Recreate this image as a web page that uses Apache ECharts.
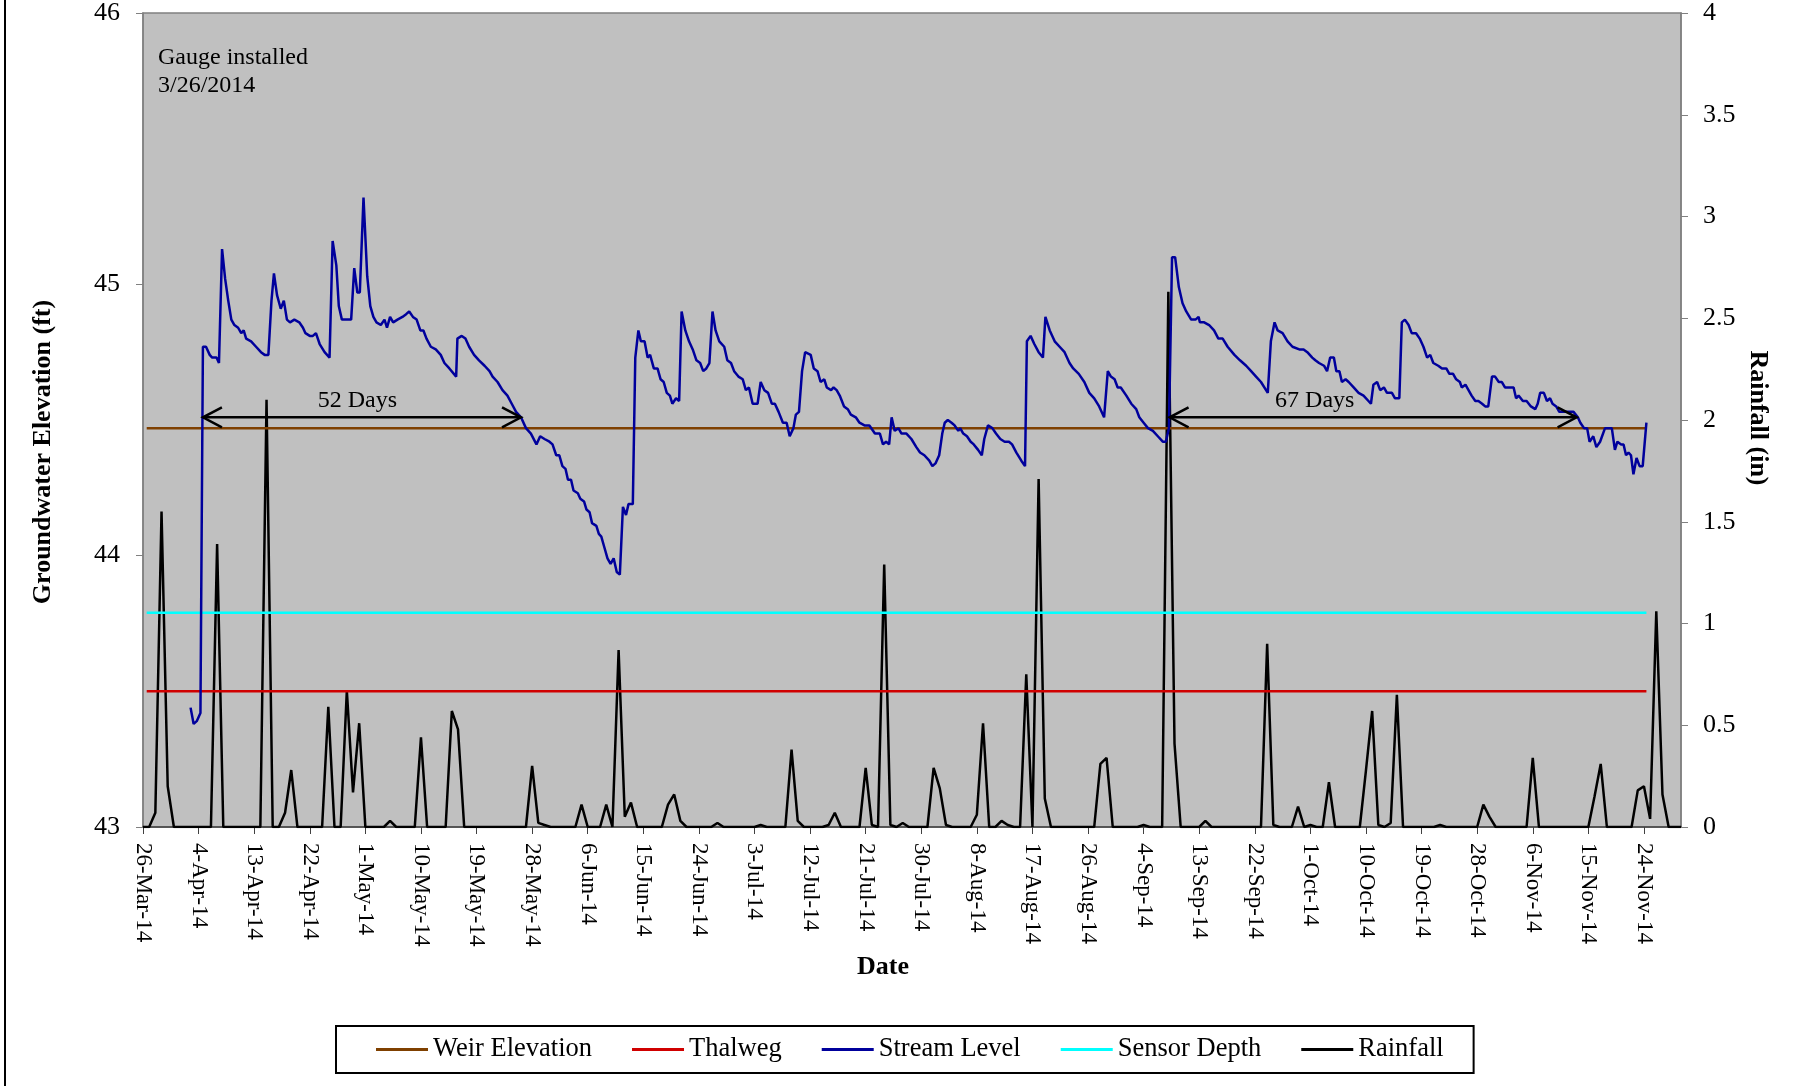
<!DOCTYPE html>
<html>
<head>
<meta charset="utf-8">
<title>Groundwater Elevation</title>
<script src="https://cdn.jsdelivr.net/npm/echarts@6/dist/echarts.min.js"></script>
<style>
html, body { margin: 0; padding: 0; background: #fff; }
#main { width: 1805px; height: 1086px; }
</style>
</head>
<body>
<div id="main"></div>
<script>
// x tick labels, one every 9 days (day 0 = 26-Mar-14)
var dateLabels = ['26-Mar-14', '4-Apr-14', '13-Apr-14', '22-Apr-14', '1-May-14', '10-May-14', '19-May-14',
    '28-May-14', '6-Jun-14', '15-Jun-14', '24-Jun-14', '3-Jul-14', '12-Jul-14', '21-Jul-14', '30-Jul-14',
    '8-Aug-14', '17-Aug-14', '26-Aug-14', '4-Sep-14', '13-Sep-14', '22-Sep-14', '1-Oct-14', '10-Oct-14',
    '19-Oct-14', '28-Oct-14', '6-Nov-14', '15-Nov-14', '24-Nov-14'];
var tickDays = dateLabels.map(function (t, i) { return i * 9; });

// daily rainfall (in), day 0 .. 249
var rainfall = [
    0, 0, 0.07, 1.55, 0.2, 0, 0, 0, 0, 0,
    0, 0, 1.39, 0, 0, 0, 0, 0, 0, 0,
    2.10, 0, 0, 0.07, 0.28, 0, 0, 0, 0, 0,
    0.59, 0, 0, 0.67, 0.17, 0.51, 0, 0, 0, 0,
    0.03, 0, 0, 0, 0, 0.44, 0, 0, 0, 0,
    0.57, 0.48, 0, 0, 0, 0, 0, 0, 0, 0,
    0, 0, 0, 0.30, 0.02, 0.01, 0, 0, 0, 0,
    0, 0.11, 0, 0, 0, 0.11, 0, 0.87, 0.05, 0.12,
    0, 0, 0, 0, 0, 0.11, 0.16, 0.03, 0, 0,
    0, 0, 0, 0.02, 0, 0, 0, 0, 0, 0,
    0.01, 0, 0, 0, 0, 0.38, 0.03, 0, 0, 0,
    0, 0.01, 0.07, 0, 0, 0, 0, 0.29, 0.01, 0,
    1.29, 0.01, 0, 0.02, 0, 0, 0, 0, 0.29, 0.19,
    0.01, 0, 0, 0, 0, 0.06, 0.51, 0, 0, 0.03,
    0.01, 0, 0, 0.75, 0, 1.71, 0.14, 0, 0, 0,
    0, 0, 0, 0, 0, 0.31, 0.34, 0, 0, 0,
    0, 0, 0.01, 0, 0, 0, 2.63, 0.41, 0, 0,
    0, 0, 0.03, 0, 0, 0, 0, 0, 0, 0,
    0, 0, 0.90, 0.01, 0, 0, 0, 0.10, 0, 0.01,
    0, 0, 0.22, 0, 0, 0, 0, 0, 0.28, 0.57,
    0.01, 0, 0.02, 0.65, 0, 0, 0, 0, 0, 0,
    0.01, 0, 0, 0, 0, 0, 0, 0.11, 0.05, 0,
    0, 0, 0, 0, 0, 0.34, 0, 0, 0, 0,
    0, 0, 0, 0, 0, 0.15, 0.31, 0, 0, 0,
    0, 0, 0.18, 0.20, 0.04, 1.06, 0.16, 0, 0, 0
];

// stream level readings [day, ft]
var streamLevel = [
    [7.7,43.44],[8.2,43.38],[8.7,43.39],[9.3,43.42],[9.7,44.77],[10.2,44.77],[10.8,44.74],[11.2,44.73],[11.9,44.73],[12.3,44.71],
    [12.8,45.13],[13.3,45.02],[13.8,44.94],[14.3,44.87],[14.8,44.85],[15.4,44.84],[15.9,44.82],[16.3,44.83],[16.7,44.80],[17.5,44.79],
    [18.3,44.77],[19.1,44.75],[19.7,44.74],[20.3,44.74],[20.8,44.94],[21.2,45.04],[21.7,44.96],[22.3,44.91],[22.8,44.94],[23.3,44.87],
    [23.8,44.86],[24.5,44.87],[25.3,44.86],[25.9,44.84],[26.3,44.82],[27.0,44.81],[27.5,44.81],[28.0,44.82],[28.6,44.78],[29.4,44.75],
    [30.2,44.73],[30.7,45.16],[31.3,45.07],[31.7,44.92],[32.2,44.87],[32.9,44.87],[33.7,44.87],[34.2,45.06],[34.7,44.97],[35.1,44.97],
    [35.7,45.32],[36.3,45.03],[36.8,44.92],[37.3,44.88],[37.8,44.86],[38.5,44.85],[39.1,44.87],[39.5,44.84],[40.0,44.88],[40.5,44.86],
    [41.2,44.87],[42.0,44.88],[42.6,44.89],[43.1,44.90],[43.7,44.88],[44.3,44.87],[44.9,44.83],[45.4,44.83],[45.9,44.80],[46.6,44.77],
    [47.4,44.76],[48.2,44.74],[48.8,44.71],[49.6,44.69],[50.7,44.66],[50.9,44.80],[51.6,44.81],[52.2,44.80],[52.8,44.77],[53.6,44.74],
    [54.4,44.72],[55.3,44.70],[56.1,44.68],[56.6,44.66],[57.4,44.64],[58.2,44.61],[59.0,44.59],[59.7,44.56],[60.4,44.53],[61.2,44.51],
    [62.0,44.47],[62.8,44.45],[63.7,44.41],[64.3,44.44],[65.0,44.43],[65.8,44.42],[66.3,44.41],[66.9,44.37],[67.4,44.37],[67.9,44.33],
    [68.4,44.32],[68.8,44.28],[69.3,44.28],[69.7,44.24],[70.4,44.23],[70.8,44.21],[71.4,44.20],[71.8,44.17],[72.3,44.16],[72.7,44.12],
    [73.4,44.11],[73.8,44.08],[74.2,44.07],[74.7,44.03],[75.2,43.99],[75.7,43.97],[76.2,43.99],[76.7,43.94],[77.2,43.93],[77.7,44.18],
    [78.2,44.15],[78.6,44.19],[79.3,44.19],[79.7,44.73],[80.2,44.83],[80.6,44.79],[81.2,44.79],[81.7,44.73],[82.1,44.74],[82.7,44.69],
    [83.3,44.69],[83.8,44.65],[84.3,44.64],[84.8,44.60],[85.3,44.59],[85.7,44.56],[86.3,44.58],[86.8,44.57],[87.2,44.90],[87.8,44.83],
    [88.4,44.79],[89.0,44.76],[89.6,44.72],[90.2,44.71],[90.7,44.68],[91.2,44.69],[91.7,44.71],[92.2,44.90],[92.7,44.83],[93.3,44.79],
    [94.1,44.77],[94.6,44.72],[95.2,44.71],[95.7,44.68],[96.4,44.66],[97.1,44.65],[97.6,44.61],[98.1,44.62],[98.7,44.56],[99.5,44.56],
    [100.0,44.64],[100.6,44.61],[101.2,44.60],[101.8,44.56],[102.3,44.56],[102.9,44.53],[103.6,44.49],[104.2,44.49],[104.7,44.44],[105.3,44.47],
    [105.7,44.52],[106.2,44.53],[106.7,44.68],[107.2,44.75],[108.1,44.74],[108.6,44.69],[109.2,44.68],[109.7,44.64],[110.3,44.65],[110.7,44.62],
    [111.4,44.61],[111.8,44.62],[112.3,44.61],[112.8,44.59],[113.5,44.55],[114.1,44.54],[114.6,44.52],[115.4,44.51],[116.0,44.49],[116.8,44.48],
    [117.6,44.48],[118.5,44.45],[119.3,44.45],[119.8,44.41],[120.3,44.42],[120.8,44.41],[121.2,44.51],[121.7,44.46],[122.3,44.47],[122.8,44.45],
    [123.6,44.45],[124.4,44.43],[125.2,44.40],[125.8,44.38],[126.5,44.37],[127.3,44.35],[127.8,44.33],[128.3,44.34],[128.9,44.37],[129.4,44.45],
    [129.8,44.49],[130.3,44.50],[130.9,44.49],[131.4,44.48],[132.0,44.46],[132.3,44.47],[132.8,44.45],[133.4,44.44],[134.0,44.42],[134.5,44.41],
    [135.2,44.39],[135.8,44.37],[136.2,44.43],[136.8,44.48],[137.5,44.47],[138.1,44.45],[138.8,44.43],[139.5,44.42],[140.2,44.42],[140.7,44.41],
    [141.4,44.38],[142.2,44.35],[142.8,44.33],[143.1,44.79],[143.7,44.81],[144.3,44.78],[145.0,44.75],[145.7,44.73],[146.1,44.88],[146.8,44.83],
    [147.6,44.79],[148.4,44.77],[149.2,44.75],[150.0,44.71],[150.6,44.69],[151.5,44.67],[152.4,44.64],[153.2,44.60],[154.0,44.58],[154.8,44.55],
    [155.6,44.51],[156.2,44.68],[156.7,44.66],[157.3,44.65],[157.8,44.62],[158.3,44.62],[159.2,44.59],[160.0,44.56],[160.8,44.54],[161.3,44.51],
    [162.0,44.49],[162.7,44.47],[163.5,44.46],[164.3,44.44],[165.1,44.42],[165.6,44.42],[166.1,44.47],[166.6,45.10],[167.1,45.10],[167.7,44.99],
    [168.3,44.93],[168.9,44.90],[169.7,44.87],[170.4,44.87],[170.9,44.88],[171.1,44.86],[171.8,44.86],[172.6,44.85],[173.4,44.83],[174.1,44.80],
    [174.8,44.80],[175.6,44.77],[176.7,44.74],[177.6,44.72],[178.6,44.70],[179.4,44.68],[180.2,44.66],[181.0,44.64],[182.1,44.60],[182.6,44.79],
    [183.2,44.86],[183.7,44.83],[184.5,44.82],[185.3,44.79],[186.1,44.77],[187.2,44.76],[187.9,44.76],[188.5,44.75],[189.3,44.73],[189.8,44.72],
    [190.4,44.71],[191.2,44.70],[191.7,44.68],[192.2,44.73],[192.8,44.73],[193.2,44.68],[193.7,44.68],[194.1,44.64],[194.7,44.65],[195.2,44.64],
    [196.0,44.62],[196.8,44.60],[197.6,44.59],[198.4,44.57],[198.8,44.56],[199.2,44.63],[199.8,44.64],[200.3,44.61],[200.9,44.62],[201.4,44.60],
    [202.2,44.60],[202.7,44.58],[203.4,44.58],[203.8,44.86],[204.3,44.87],[204.9,44.85],[205.4,44.82],[206.1,44.82],[206.7,44.80],[207.3,44.77],
    [207.9,44.73],[208.4,44.74],[208.9,44.71],[209.7,44.70],[210.3,44.69],[211.0,44.69],[211.5,44.67],[212.1,44.67],[212.6,44.65],[213.2,44.64],
    [213.5,44.62],[214.1,44.63],[214.6,44.61],[215.1,44.59],[215.7,44.57],[216.2,44.57],[216.8,44.56],[217.3,44.55],[217.8,44.55],[218.4,44.66],
    [218.9,44.66],[219.5,44.64],[220.0,44.64],[220.5,44.62],[221.3,44.62],[221.9,44.62],[222.3,44.58],[222.7,44.59],[223.4,44.57],[224.0,44.57],
    [224.7,44.55],[225.4,44.54],[225.8,44.56],[226.2,44.60],[226.8,44.60],[227.3,44.57],[227.8,44.58],[228.2,44.56],[228.8,44.55],[229.3,44.53],
    [230.0,44.53],[230.8,44.53],[231.6,44.53],[232.3,44.51],[232.7,44.49],[233.3,44.47],[233.8,44.47],[234.2,44.42],[234.8,44.44],[235.3,44.40],
    [235.9,44.42],[236.7,44.47],[237.8,44.47],[238.3,44.39],[238.7,44.42],[239.3,44.41],[239.7,44.41],[240.1,44.37],[240.5,44.38],[240.9,44.37],
    [241.3,44.30],[241.8,44.36],[242.3,44.33],[242.8,44.33],[243.4,44.49]
];

// constant reference levels (ft) and the days they span
var weirElevation = 44.47;
var thalweg = 43.5;
var sensorDepth = 43.79;
var refSpan = [0.6, 243.4];

// recession periods drawn as double arrows
var arrow52 = [9.7, 61.2];
var arrow67 = [166.2, 232.1];
var arrowLevel = 44.51;
var arrowLabels = ['52 Days', '67 Days'];
var arrowLabelDays = [34.7, 189.7];

var serif = '"Liberation Serif", "Times New Roman", serif';

function flat(level) {
    return [[refSpan[0], level], [refSpan[1], level]];
}

var chart = echarts.init(document.getElementById('main'));

var option = {
    animation: false,
    backgroundColor: '#fff',
    grid: {
        left: 143, right: 124, top: 12, bottom: 259,
        show: true, backgroundColor: '#C0C0C0', borderColor: '#808080', borderWidth: 1.5
    },
    legend: {
        left: 336, top: 1026,
        padding: [10, 30, 10, 40],
        borderColor: '#000', borderWidth: 2,
        itemWidth: 52, itemHeight: 3, itemGap: 40,
        icon: 'rect',
        selectedMode: false,
        textStyle: { fontFamily: serif, fontSize: 26.5, color: '#000' },
        data: ['Weir Elevation', 'Thalweg', 'Stream Level', 'Sensor Depth', 'Rainfall']
    },
    xAxis: {
        type: 'value', min: 0, max: 249,
        axisLine: { show: true, lineStyle: { color: '#404040', width: 1.5 } },
        axisTick: { show: true, length: 7, customValues: tickDays, lineStyle: { color: '#404040' } },
        splitLine: { show: false },
        axisLabel: {
            customValues: tickDays,
            rotate: -90, margin: 16,
            fontFamily: serif, fontSize: 23, color: '#000',
            formatter: function (v) { return dateLabels[Math.round(v / 9)] || ''; }
        }
    },
    yAxis: [{
        type: 'value', min: 43, max: 46, interval: 1,
        axisLine: { show: true, lineStyle: { color: '#808080', width: 1.5 } },
        axisTick: { show: true, length: 7, lineStyle: { color: '#808080' } },
        splitLine: { show: false },
        axisLabel: { margin: 23, fontFamily: serif, fontSize: 26, color: '#000' }
    }, {
        type: 'value', min: 0, max: 4, interval: 0.5, position: 'right',
        axisLine: { show: true, lineStyle: { color: '#808080', width: 1.5 } },
        axisTick: { show: true, length: 7, lineStyle: { color: '#808080' } },
        splitLine: { show: false },
        axisLabel: { margin: 22, fontFamily: serif, fontSize: 26, color: '#000' }
    }],
    series: [{
        name: 'Rainfall', type: 'line', yAxisIndex: 1, symbol: 'none',
        itemStyle: { color: '#000' },
        lineStyle: { color: '#000', width: 2.5 },
        data: rainfall.map(function (r, d) { return [d, r]; })
    }, {
        name: 'Weir Elevation', type: 'line', symbol: 'none',
        itemStyle: { color: '#7F4000' },
        lineStyle: { color: '#7F4000', width: 2.5 },
        data: flat(weirElevation)
    }, {
        name: 'Thalweg', type: 'line', symbol: 'none',
        itemStyle: { color: '#D00000' },
        lineStyle: { color: '#D00000', width: 2.5 },
        data: flat(thalweg)
    }, {
        name: 'Sensor Depth', type: 'line', symbol: 'none',
        itemStyle: { color: '#00FFFF' },
        lineStyle: { color: '#00FFFF', width: 2.5 },
        data: flat(sensorDepth)
    }, {
        name: 'Stream Level', type: 'line', symbol: 'none',
        itemStyle: { color: '#00009C' },
        lineStyle: { color: '#00009C', width: 2.5 },
        data: streamLevel
    }]
};
chart.setOption(option);

// annotations placed through the axes
function px(d, v) {
    return chart.convertToPixel({ xAxisIndex: 0, yAxisIndex: 0 }, [d, v]);
}

function arrowGraphics(span, label, labelDay) {
    var a = px(span[0], arrowLevel);
    var b = px(span[1], arrowLevel);
    var c = px(labelDay, arrowLevel);
    var stroke = { stroke: '#000', lineWidth: 2.5, fill: null };
    return [
        { type: 'line', shape: { x1: a[0], y1: a[1], x2: b[0], y2: b[1] }, style: stroke, z: 100 },
        { type: 'polyline', shape: { points: [[a[0] + 19, a[1] - 10], [a[0], a[1]], [a[0] + 19, a[1] + 10]] }, style: stroke, z: 100 },
        { type: 'polyline', shape: { points: [[b[0] - 19, b[1] - 10], [b[0], b[1]], [b[0] - 19, b[1] + 10]] }, style: stroke, z: 100 },
        {
            type: 'text', x: c[0], y: c[1] - 5, z: 100,
            style: { text: label, fill: '#000', font: '24px ' + serif, align: 'center', verticalAlign: 'bottom' }
        }
    ];
}

var graphics = [
    // outer frame edge on the left
    { type: 'line', shape: { x1: 5, y1: 0, x2: 5, y2: 1086 }, style: { stroke: '#000', lineWidth: 2 } },
    {
        type: 'text', x: 158, y: 44, z: 100,
        style: { text: 'Gauge installed\n3/26/2014', fill: '#000', font: '24px ' + serif, lineHeight: 28 }
    },
    {
        type: 'text', x: 43, y: 452, rotation: Math.PI / 2,
        style: { text: 'Groundwater Elevation (ft)', fill: '#000', font: 'bold 26px ' + serif, align: 'center', verticalAlign: 'middle' }
    },
    {
        type: 'text', x: 1758, y: 418, rotation: -Math.PI / 2,
        style: { text: 'Rainfall (in)', fill: '#000', font: 'bold 26px ' + serif, align: 'center', verticalAlign: 'middle' }
    },
    {
        type: 'text', x: 883, y: 967,
        style: { text: 'Date', fill: '#000', font: 'bold 26px ' + serif, align: 'center', verticalAlign: 'middle' }
    }
].concat(arrowGraphics(arrow52, arrowLabels[0], arrowLabelDays[0]))
 .concat(arrowGraphics(arrow67, arrowLabels[1], arrowLabelDays[1]));

chart.setOption({ graphic: graphics });
</script>
</body>
</html>
